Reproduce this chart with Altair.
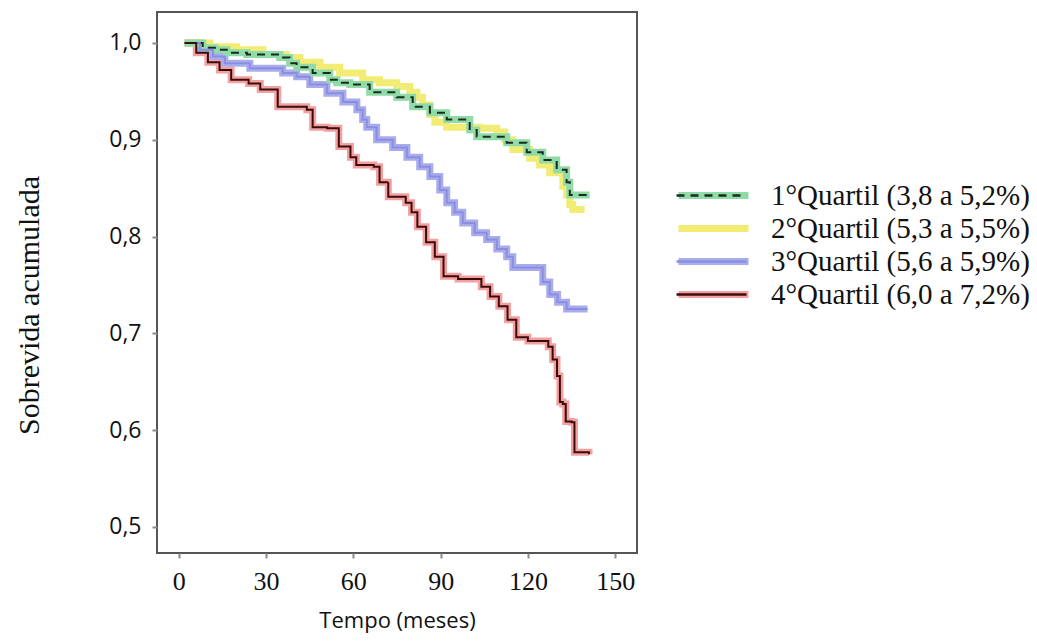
import altair as alt
import pandas as pd

groups = ["1°Quartil (3,8 a 5,2%)", "2°Quartil (5,3 a 5,5%)",
          "3°Quartil (5,6 a 5,9%)", "4°Quartil (6,0 a 7,2%)"]
codes = ["q1", "q2", "q3", "q4"]

t1 = [2, 8.2, 12.4, 16.5, 23.4, 34.7, 38.1, 40.5, 46, 51.9, 54.3, 58.8, 65.6, 74.9, 80.4,
      86.3, 92.1, 100, 102.4, 106.9, 112.7, 119.6, 125.1, 129.9, 133.3, 134.4, 141.2]
s1 = [1.0, 0.995, 0.993, 0.990, 0.988, 0.985, 0.979, 0.975, 0.969, 0.962, 0.959, 0.957, 0.949,
      0.944, 0.934, 0.928, 0.921, 0.910, 0.903, 0.903, 0.897, 0.887, 0.879, 0.869, 0.856, 0.843, 0.843]

t2 = [2, 10.7, 19.9, 28.9, 37.1, 41.6, 48.5, 55.3, 63.2, 69, 74.9, 79.4, 81.8, 83.8, 86.3, 88,
      92.1, 103.4, 109.3, 112, 114.8, 120.6, 124, 127.5, 132, 133.3, 134.4, 135.4, 139.5]
s2 = [1.0, 0.996, 0.993, 0.988, 0.985, 0.980, 0.975, 0.969, 0.962, 0.959, 0.955, 0.949, 0.944,
      0.936, 0.926, 0.918, 0.913, 0.912, 0.908, 0.900, 0.890, 0.881, 0.874, 0.866, 0.852, 0.843,
      0.833, 0.828, 0.828]

t3 = [2, 7.2, 11.7, 15.8, 24.4, 35.7, 40.5, 45, 50.9, 56.4, 61.2, 63.2, 64.6, 68, 73.5, 78.4,
      82.8, 86.3, 89.7, 92.1, 94.8, 97.6, 101.7, 105.8, 109.3, 112.7, 114.8, 125.1, 127.5, 130.2,
      133.3, 140.5]
s3 = [1.0, 0.993, 0.986, 0.979, 0.974, 0.969, 0.965, 0.957, 0.948, 0.939, 0.931, 0.921, 0.913,
      0.900, 0.892, 0.882, 0.872, 0.862, 0.848, 0.835, 0.825, 0.814, 0.804, 0.797, 0.787, 0.779,
      0.768, 0.753, 0.740, 0.732, 0.725, 0.725]

t4 = [2, 6, 10, 14, 18, 24, 28, 34, 44, 46, 51, 55, 59, 61, 67, 69, 72, 78, 80, 82, 85, 88, 91,
      96, 104, 107, 110, 113, 116, 120, 127, 128.5, 130, 131, 132, 133, 135, 136, 141]
s4 = [1.0, 0.990, 0.980, 0.972, 0.962, 0.958, 0.952, 0.934, 0.931, 0.913, 0.912, 0.893, 0.882,
      0.874, 0.872, 0.856, 0.841, 0.835, 0.825, 0.810, 0.794, 0.779, 0.759, 0.756, 0.748, 0.738,
      0.728, 0.714, 0.696, 0.692, 0.686, 0.673, 0.656, 0.629, 0.627, 0.609, 0.608, 0.577, 0.575]

thick_colors = ["#8fdca8", "#f3ec74", "#a9acec", "#f4a0a0"]
thin_colors = ["#1c2a1c", "transparent", "#8a8ee0", "#3a0c0c"]
thin_dash = [[8, 6], [1, 0], [1, 0], [1, 0]]

rows = []
for g, c, ts, ss in zip(groups, codes, [t1, t2, t3, t4], [s1, s2, s3, s4]):
    for t, s in zip(ts, ss):
        rows.append({"grupo": g, "codigo": c, "tempo": t, "sobrevida": s})
df = pd.DataFrame(rows)

xscale = alt.Scale(domain=[-7.5, 157.5], nice=False, zero=False)
yscale = alt.Scale(domain=[0.473, 1.032], nice=False, zero=False)

legend_common = dict(
    orient="none", legendX=518, legendY=169, title=None, padding=0,
    symbolType="stroke", symbolSize=4900, symbolStrokeWidth=7, clipHeight=29,
    labelFont="Liberation Serif", labelFontSize=29, labelOffset=19, labelColor="#111",
    rowPadding=3, labelLimit=400,
)

x_enc = alt.X("tempo:Q", scale=xscale,
              axis=alt.Axis(values=[0, 30, 60, 90, 120, 150], title="Tempo (meses)",
                            grid=False, domain=False, tickColor="#8a8a8a", tickWidth=2, tickSize=5,
                            labelFont="Liberation Serif", labelFontSize=26, labelColor="#111",
                            labelPadding=10, titleFont="Open Sans", titleFontSize=22,
                            titleFontWeight="normal", titleColor="#111", titlePadding=16))
y_enc = alt.Y("sobrevida:Q", scale=yscale,
              axis=alt.Axis(values=[0.5, 0.6, 0.7, 0.8, 0.9, 1.0], title="Sobrevida acumulada",
                            labelExpr="replace(format(datum.value, '.1f'), '.', ',')",
                            grid=False, domain=False, tickColor="#8a8a8a", tickWidth=2, tickSize=5,
                            labelFont="Open Sans", labelFontSize=23, labelColor="#111",
                            labelPadding=11, titleFont="Liberation Serif", titleFontSize=30,
                            titleFontWeight="normal", titleColor="#111", titlePadding=64,
                            titleY=293))

color_scale = alt.Scale(domain=groups, range=thick_colors)
stroke_scale = alt.Scale(domain=codes, range=thin_colors)
dash_scale = alt.Scale(domain=codes, range=thin_dash)

base = alt.Chart(df)
layers = []
for i in [3, 2, 1, 0]:
    g = groups[i]
    layers.append(
        base.transform_filter(alt.datum.grupo == g)
        .mark_line(interpolate="step-after", strokeWidth=7)
        .encode(x=x_enc, y=y_enc,
                color=alt.Color("grupo:N", scale=color_scale, legend=alt.Legend(**legend_common)))
    )
thin = (
    base.mark_line(interpolate="step-after", strokeWidth=2)
    .encode(x=x_enc, y=y_enc,
            stroke=alt.Stroke("codigo:N", scale=stroke_scale,
                              legend=alt.Legend(**{**legend_common, "symbolStrokeWidth": 2.5,
                                                   "labelExpr": "''"})),
            strokeDash=alt.StrokeDash("codigo:N", scale=dash_scale, legend=None),
            detail="codigo:N")
)

chart = (
    alt.layer(*layers, thin)
    .properties(width=480, height=541,
                autosize=alt.AutoSizeParams(type="none"),
                padding={"left": 149, "top": 4, "right": 392, "bottom": 82},
                background="white")
    .configure_view(stroke="#555555", strokeWidth=2)
)

chart.save("out.html", embed_options={"renderer": "svg", "actions": False})
